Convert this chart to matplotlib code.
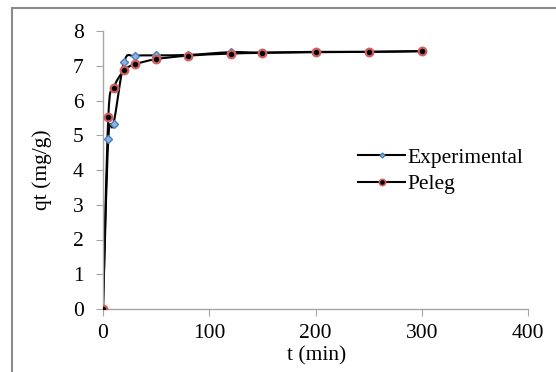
import numpy as np
import matplotlib.pyplot as plt
from matplotlib.path import Path
from matplotlib.patches import PathPatch, Rectangle
from matplotlib.lines import Line2D

t = [0, 5, 10, 20, 30, 50, 80, 120, 150, 200, 250, 300]
q_exp = [0, 4.89, 5.33, 7.12, 7.28, 7.30, 7.31, 7.39, 7.38, 7.40, 7.40, 7.42]
q_peleg = [0, 5.53, 6.36, 6.87, 7.04, 7.19, 7.29, 7.35, 7.37, 7.39, 7.40, 7.42]

plt.rcParams['font.family'] = ['Liberation Serif', 'DejaVu Serif']
FS = 15.5


def smooth_path(x, y):
    # excel-like smoothed line (catmull-rom -> bezier)
    x = np.asarray(x, float)
    y = np.asarray(y, float)
    n = len(x)
    verts = [(x[0], y[0])]
    codes = [Path.MOVETO]
    for i in range(n - 1):
        i0 = max(i - 1, 0)
        i3 = min(i + 2, n - 1)
        c1 = (x[i] + (x[i + 1] - x[i0]) / 6, y[i] + (y[i + 1] - y[i0]) / 6)
        c2 = (x[i + 1] - (x[i3] - x[i]) / 6, y[i + 1] - (y[i3] - y[i]) / 6)
        verts += [c1, c2, (x[i + 1], y[i + 1])]
        codes += [Path.CURVE4] * 3
    return Path(verts, codes)


fig = plt.figure(figsize=(5.56, 3.72), dpi=100)
fig.patches.append(Rectangle((12 / 556, -0.1), 1.2, 1 - 8 / 372 + 0.1,
                             transform=fig.transFigure, fill=False,
                             edgecolor='#8c8c8c', linewidth=1.5))
ax = fig.add_axes([103 / 556, 63 / 372, 425 / 556, 278 / 372])

for q in (q_exp, q_peleg):
    ax.add_patch(PathPatch(smooth_path(t, q), fill=False, edgecolor='black',
                           linewidth=1.5, zorder=2))

ax.plot(t, q_exp, linestyle='none', marker='D', markersize=3.8,
        markerfacecolor='#8fb4e3', markeredgecolor='#4a7ebb', markeredgewidth=1, zorder=3)
ax.plot(t, q_peleg, linestyle='none', marker='o', markersize=5.5,
        markerfacecolor='black', markeredgecolor='#d0605e', markeredgewidth=1.6, zorder=4)

ax.set_xlim(0, 400)
ax.set_ylim(0, 8)
ax.set_xticks([0, 100, 200, 300, 400])
ax.set_yticks(range(0, 9))
for s in ('top', 'right'):
    ax.spines[s].set_visible(False)
for s in ('left', 'bottom'):
    ax.spines[s].set_color('#a6a6a6')
    ax.spines[s].set_linewidth(1)
ax.tick_params(colors='#a6a6a6', labelcolor='black', labelsize=FS, length=5, direction='out')
ax.tick_params(axis='x', pad=6)
ax.tick_params(axis='y', pad=9)
ax.set_xlabel('t (min)', fontsize=FS)
ax.set_ylabel('qt (mg/g)', fontsize=FS)
ax.xaxis.set_label_coords(0.503, -0.135)
ax.yaxis.set_label_coords(-0.12, 0.5)

h_exp = Line2D([], [], color='black', linewidth=1.5, marker='D', markersize=2.5,
               markerfacecolor='#8fb4e3', markeredgecolor='#4a7ebb')
h_pel = Line2D([], [], color='black', linewidth=1.5, marker='o', markersize=4.5,
               markerfacecolor='black', markeredgecolor='#d0605e', markeredgewidth=1.2)
ax.legend([h_exp, h_pel], ['Experimental', 'Peleg'], loc='center left',
          bbox_to_anchor=(0.58, 0.497), frameon=False, fontsize=FS,
          handlelength=2.2, handletextpad=0.1, labelspacing=0.3, borderaxespad=0)

fig.savefig('out.png', dpi=100)
